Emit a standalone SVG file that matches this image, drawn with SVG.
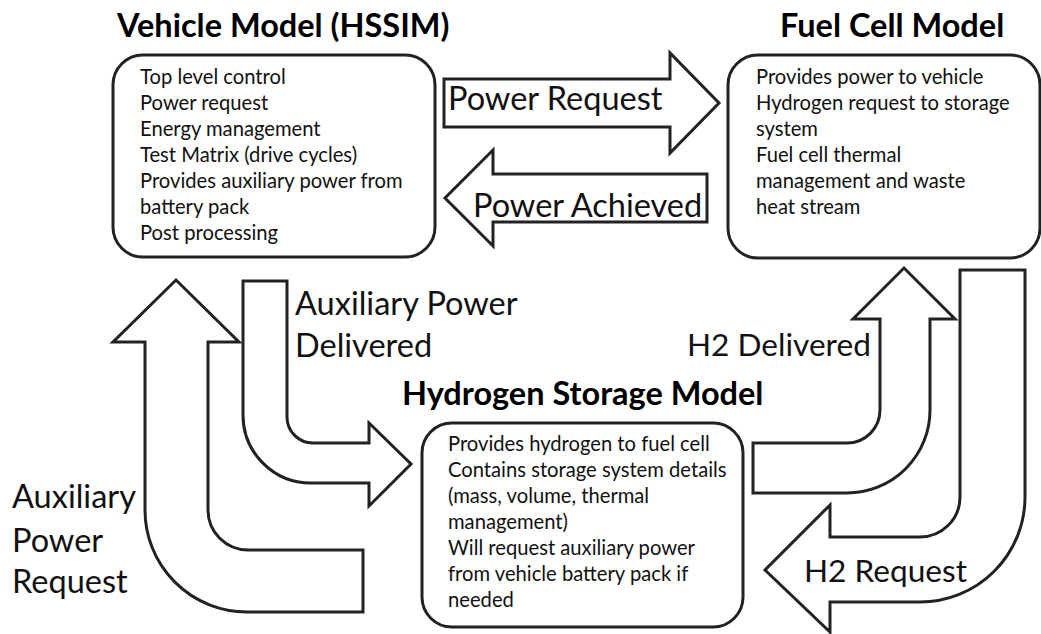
<svg xmlns="http://www.w3.org/2000/svg" width="1041" height="634" viewBox="0 0 1041 634">
<style>
.box{fill:#fff;stroke:#222;stroke-width:3}
.arr{fill:#fff;stroke:#222;stroke-width:3;stroke-linejoin:miter}
.title{font-family:Lato,"Liberation Sans",sans-serif;font-weight:bold;font-size:32.5px;fill:#000}
.body{font-family:Lato,"Liberation Sans",sans-serif;font-size:20.2px;fill:#111}
.lbl{font-family:Lato,"Liberation Sans",sans-serif;font-size:32.5px;fill:#111}
.lbl2{font-family:Lato,"Liberation Sans",sans-serif;font-size:31.6px;fill:#111}
</style>
<rect width="1041" height="634" fill="#fff"/>
<g id="connectors">
<path class="arr" d="M444 79 L670 79 L670 53 L719 103 L670 153 L670 127 L444 127 Z"/>
<path class="arr" d="M707 174 L493 174 L493 150 L445 198 L493 246 L493 222 L707 222 Z"/>
<path class="arr" d="M363 550 L248 550 A40 40 0 0 1 208 510 L208 342 L239 342 L176 280 L113 342 L145 342 L145 510 A102 102 0 0 0 247 612 L363 612 Z"/>
<path class="arr" d="M243 281 L287 281 L287 417 A26 26 0 0 0 313 443 L369 443 L369 423 L411 464 L369 506 L369 483 L311 483 A68 68 0 0 1 243 415 Z"/>
<path class="arr" d="M753 443 L847 443 A33 33 0 0 0 880 410 L880 319 L853 319 L904 268 L955 319 L930 319 L930 410 A83 83 0 0 1 847 493 L753 493 Z"/>
<path class="arr" d="M960 270 L1025 270 L1025 497 A105 105 0 0 1 920 602 L830 602 L830 632 L765 570 L830 505 L830 537 L920 537 A40 40 0 0 0 960 497 Z"/>
<text class="lbl" x="448" y="110">Power Request</text>
<text class="lbl" x="473" y="217">Power Achieved</text>
<text class="lbl" x="295" y="315">Auxiliary Power</text>
<text class="lbl" x="295" y="357">Delivered</text>
<text class="lbl" x="12" y="508">Auxiliary</text>
<text class="lbl" x="12" y="552">Power</text>
<text class="lbl" x="12" y="593">Request</text>
<text class="lbl2" x="687" y="356">H2 Delivered</text>
<text class="lbl2" x="804" y="582">H2 Request</text>
</g>
<g id="vehicle">
<text class="title" x="117" y="37">Vehicle Model (HSSIM)</text>
<rect class="box" x="113" y="55" width="322" height="202" rx="30"/>
<text class="body" x="140" y="84">Top level control</text>
<text class="body" x="140" y="110">Power request</text>
<text class="body" x="140" y="136">Energy management</text>
<text class="body" x="140" y="162">Test Matrix (drive cycles)</text>
<text class="body" x="140" y="188">Provides auxiliary power from</text>
<text class="body" x="140" y="214">battery pack</text>
<text class="body" x="140" y="240">Post processing</text>
</g>
<g id="fuelcell">
<text class="title" x="780" y="37">Fuel Cell Model</text>
<rect class="box" x="728" y="55" width="312" height="203" rx="30"/>
<text class="body" x="756" y="84">Provides power to vehicle</text>
<text class="body" x="756" y="110">Hydrogen request to storage</text>
<text class="body" x="756" y="136">system</text>
<text class="body" x="756" y="162">Fuel cell thermal</text>
<text class="body" x="756" y="188">management and waste</text>
<text class="body" x="756" y="214">heat stream</text>
</g>
<g id="storage">
<text class="title" x="402" y="405">Hydrogen Storage Model</text>
<rect class="box" x="422" y="423" width="321" height="204" rx="30"/>
<text class="body" x="448" y="451">Provides hydrogen to fuel cell</text>
<text class="body" x="448" y="477">Contains storage system details</text>
<text class="body" x="448" y="503">(mass, volume, thermal</text>
<text class="body" x="448" y="529">management)</text>
<text class="body" x="448" y="555">Will request auxiliary power</text>
<text class="body" x="448" y="581">from vehicle battery pack if</text>
<text class="body" x="448" y="607">needed</text>
</g>
</svg>
